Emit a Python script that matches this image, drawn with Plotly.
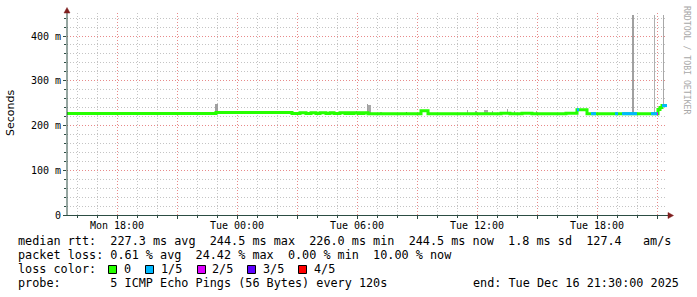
import plotly.graph_objects as go
import pandas as pd
import numpy as np

# ---------------- data ----------------
window_start = "2025-12-15 15:30"
window_end = "2025-12-16 21:30"

# median RTT (ms) as step segments: start time, value, loss class
seg_start = [
    "2025-12-15 15:30", "2025-12-15 22:57",
    "2025-12-16 02:45", "2025-12-16 03:09", "2025-12-16 03:27", "2025-12-16 03:42",
    "2025-12-16 03:57", "2025-12-16 04:09", "2025-12-16 04:27", "2025-12-16 04:39",
    "2025-12-16 04:51", "2025-12-16 05:09", "2025-12-16 05:24", "2025-12-16 05:33",
    "2025-12-16 05:42", "2025-12-16 05:51", "2025-12-16 06:03", "2025-12-16 06:09",
    "2025-12-16 06:15", "2025-12-16 06:21",
    "2025-12-16 06:33", "2025-12-16 09:12", "2025-12-16 09:33",
    "2025-12-16 13:12", "2025-12-16 13:39", "2025-12-16 14:15", "2025-12-16 14:45",
    "2025-12-16 16:27",
    "2025-12-16 17:00", "2025-12-16 17:06", "2025-12-16 17:30", "2025-12-16 17:42",
    "2025-12-16 17:57", "2025-12-16 18:54", "2025-12-16 19:03", "2025-12-16 19:15",
    "2025-12-16 20:00", "2025-12-16 20:42", "2025-12-16 21:00", "2025-12-16 21:03",
    "2025-12-16 21:09", "2025-12-16 21:15",
]
seg_median = [
    227.0, 228.8,
    226.6, 228.4, 226.6, 228.4,
    226.6, 228.4, 226.6, 228.4,
    226.6, 228.4, 226.6, 228.4,
    226.6, 228.4, 226.6, 228.4,
    226.6, 228.4,
    226.0, 233.0, 226.0,
    227.5, 226.0, 227.5, 226.0,
    227.5,
    235.0, 235.0, 226.5, 226.5,
    226.5, 226.5, 226.5, 226.5,
    226.5, 226.5, 226.5, 236.0,
    240.0, 244.5,
]
seg_loss = [
    0, 0,
    0, 0, 0, 0,
    0, 0, 0, 0,
    0, 0, 0, 0,
    0, 0, 0, 0,
    0, 0,
    0, 0, 0,
    0, 0, 0, 0,
    0,
    1, 0, 0, 1,
    0, 1, 0, 1,
    0, 1, 2, 0,
    0, 1,
]

# smoke (spread of the pings above the median)
smoke_start = [
    "2025-12-15 22:54", "2025-12-16 01:57", "2025-12-16 05:57", "2025-12-16 06:30",
    "2025-12-16 06:33", "2025-12-16 07:09", "2025-12-16 08:27", "2025-12-16 09:09",
    "2025-12-16 11:30", "2025-12-16 11:54", "2025-12-16 12:21", "2025-12-16 12:45",
    "2025-12-16 13:30", "2025-12-16 13:51", "2025-12-16 14:57",
    "2025-12-16 19:45", "2025-12-16 20:51", "2025-12-16 21:09", "2025-12-16 21:18",
]
smoke_end = [
    "2025-12-15 23:03", "2025-12-16 02:03", "2025-12-16 06:00", "2025-12-16 06:33",
    "2025-12-16 06:42", "2025-12-16 07:15", "2025-12-16 08:30", "2025-12-16 09:12",
    "2025-12-16 11:33", "2025-12-16 12:00", "2025-12-16 12:33", "2025-12-16 12:48",
    "2025-12-16 13:33", "2025-12-16 13:54", "2025-12-16 15:00",
    "2025-12-16 19:51", "2025-12-16 20:54", "2025-12-16 21:15", "2025-12-16 21:21",
]
smoke_top = [
    249, 233, 233, 249,
    245, 231, 230, 232,
    234, 232, 234, 232,
    236, 233, 233,
    447, 447, 243, 447,
]
smoke_shade = [
    "#a0a0a0", "#a0a0a0", "#a0a0a0", "#a0a0a0",
    "#a8a8a8", "#a8a8a8", "#404040", "#303030",
    "#a8a8a8", "#a8a8a8", "#a8a8a8", "#a8a8a8",
    "#a8a8a8", "#a8a8a8", "#a8a8a8",
    "#a0a0a0", "#b0b0b0", "#202020", "#a8a8a8",
]

loss_labels = ["0", "1/5", "2/5", "3/5", "4/5"]
loss_colors = ["#26ff00", "#00b8ff", "#dd00ff", "#5e00ff", "#ff0000"]

x_tick_times = [
    "2025-12-15 18:00", "2025-12-15 21:00", "2025-12-16 00:00", "2025-12-16 03:00",
    "2025-12-16 06:00", "2025-12-16 09:00", "2025-12-16 12:00", "2025-12-16 15:00",
    "2025-12-16 18:00", "2025-12-16 21:00",
]
x_tick_labels = ["Mon 18:00", "", "Tue 00:00", "", "Tue 06:00", "", "Tue 12:00", "",
                 "Tue 18:00", ""]
y_ticks = [0, 100, 200, 300, 400]
y_tick_labels = ["0", "100 m", "200 m", "300 m", "400 m"]
y_max = 451.4

stat_lines = [
    "median rtt:  227.3 ms avg  244.5 ms max  226.0 ms min  244.5 ms now  1.8 ms sd  127.4   am/s",
    "packet loss: 0.61 % avg  24.42 % max  0.00 % min  10.00 % now",
    "loss color:",
    "probe:       5 ICMP Echo Pings (56 Bytes) every 120s",
]
end_text = "end: Tue Dec 16 21:30:00 2025"
watermark = "RRDTOOL / TOBI OETIKER"

# ---------------- layout constants ----------------
W, H = 697, 297
ML, MR, MT, MB = 67, 30, 13, 82
PW, PH = W - ML - MR, H - MT - MB
Y0 = MT + PH  # pixel row of the x axis

GRID = "#c4c4c4"
MGRID = "#e88a8a"
AXIS = "#2c4d43"
ARROW = "#7f1f1f"
MONO = "DejaVu Sans Mono"
DASH = "1px,2px"
FS = 11.8


def xp(px):
    return (px - ML) / PW


def yp(py):
    return (Y0 - py) / PH


nb = lambda s: s.replace(" ", "\u00a0")

fig = go.Figure()

# smoke bars
t_seg = pd.to_datetime(seg_start)
s0 = pd.to_datetime(smoke_start)
s1 = pd.to_datetime(smoke_end)
idx = np.searchsorted(t_seg.values, s0.values, side="right") - 1
base = np.array(seg_median)[idx]
centers = s0 + (s1 - s0) / 2
widths = (s1 - s0).total_seconds() * 1000.0
fig.add_trace(go.Bar(
    x=centers, y=np.array(smoke_top) - base, base=base, width=widths,
    marker=dict(color=smoke_shade, line=dict(width=0)), hoverinfo="skip",
))

# median line (green base, then loss-coloured segments on top)
x_all = list(seg_start) + [window_end]
y_all = list(seg_median) + [seg_median[-1]]
fig.add_trace(go.Scatter(
    x=x_all, y=y_all, mode="lines", line=dict(color=loss_colors[0], width=3, shape="hv"),
    hoverinfo="skip",
))
for i, lc in enumerate(seg_loss):
    if lc == 0:
        continue
    fig.add_trace(go.Scatter(
        x=[x_all[i], x_all[i + 1]], y=[seg_median[i], seg_median[i]], mode="lines",
        line=dict(color=loss_colors[lc], width=3), hoverinfo="skip",
    ))

shapes = []
# axes
shapes.append(dict(type="line", xref="paper", yref="paper", x0=xp(67), x1=xp(67),
                   y0=yp(Y0 + 0.5), y1=yp(12), line=dict(color=AXIS, width=1)))
shapes.append(dict(type="line", xref="paper", yref="paper", x0=xp(63), x1=xp(669),
                   y0=yp(Y0 + 0.5), y1=yp(Y0 + 0.5), line=dict(color=AXIS, width=1)))
shapes.append(dict(type="path", xref="paper", yref="paper",
                   path=f"M {xp(64)} {yp(13)} L {xp(70)} {yp(13)} L {xp(67)} {yp(7.5)} Z",
                   fillcolor=ARROW, line=dict(color=ARROW, width=0.5)))
shapes.append(dict(type="path", xref="paper", yref="paper",
                   path=f"M {xp(668)} {yp(Y0 - 2.5)} L {xp(668)} {yp(Y0 + 3.5)} L {xp(673.5)} {yp(Y0 + 0.5)} Z",
                   fillcolor=ARROW, line=dict(color=ARROW, width=0.5)))

annotations = []
line_y = [241, 255, 269, 283]
for txt, py in zip(stat_lines, line_y):
    annotations.append(dict(text=nb(txt), x=xp(16), y=yp(py), xref="paper", yref="paper",
                            xanchor="left", yanchor="middle", showarrow=False,
                            font=dict(family=MONO, size=FS, color="black")))
annotations.append(dict(text=nb(end_text), x=xp(681), y=yp(283), xref="paper", yref="paper",
                        xanchor="right", yanchor="middle", showarrow=False,
                        font=dict(family=MONO, size=FS, color="black")))

# loss colour legend
box_x = [108, 145, 197, 247, 298]
lab_x = [122, 159, 210, 261, 312]
for c, lab, bx, lx in zip(loss_colors, loss_labels, box_x, lab_x):
    shapes.append(dict(type="rect", xref="paper", yref="paper", x0=xp(bx + 0.5), x1=xp(bx + 8.5),
                       y0=yp(265.5), y1=yp(273.5), fillcolor=c, line=dict(color="black", width=1)))
    annotations.append(dict(text=lab, x=xp(lx), y=yp(269), xref="paper", yref="paper",
                            xanchor="left", yanchor="middle", showarrow=False,
                            font=dict(family=MONO, size=FS, color="black")))

annotations.append(dict(text="Seconds", x=xp(10), y=yp(113), xref="paper", yref="paper",
                        xanchor="center", yanchor="middle", showarrow=False, textangle=-90,
                        font=dict(family="DejaVu Sans", size=11, color="black")))
annotations.append(dict(text=nb(watermark), x=xp(687), y=yp(60), xref="paper", yref="paper",
                        xanchor="center", yanchor="middle", showarrow=False, textangle=90,
                        font=dict(family=MONO, size=8.2, color="#a8a8a8")))

fig.update_layout(
    width=W, height=H, margin=dict(l=ML, r=MR, t=MT, b=MB, pad=0),
    paper_bgcolor="white", plot_bgcolor="white", showlegend=False,
    barmode="overlay", bargap=0,
    shapes=shapes, annotations=annotations,
    xaxis=dict(
        type="date", range=[window_start, window_end],
        tickmode="array", tickvals=x_tick_times, ticktext=x_tick_labels,
        showgrid=True, gridcolor=MGRID, gridwidth=1, griddash=DASH,
        ticks="outside", ticklen=3, tickcolor=AXIS, tickwidth=1,
        ticklabelstandoff=-2,
        tickfont=dict(family=MONO, size=10, color="black"),
        minor=dict(tickmode="linear", tick0="2025-12-15 00:00", dtick=3600000,
                   showgrid=True, gridcolor=GRID, griddash=DASH, gridwidth=1,
                   ticks="outside", ticklen=2, tickcolor=AXIS),
        zeroline=False, showline=False, fixedrange=True,
    ),
    yaxis=dict(
        range=[0, y_max], tickmode="array", tickvals=y_ticks, ticktext=y_tick_labels,
        showgrid=True, gridcolor=MGRID, gridwidth=1, griddash=DASH,
        ticks="outside", ticklen=3, tickcolor=AXIS, tickwidth=1,
        tickfont=dict(family=MONO, size=10, color="black"),
        minor=dict(tickmode="linear", tick0=0, dtick=20, showgrid=True, gridcolor=GRID,
                   griddash=DASH, gridwidth=1, ticks="outside", ticklen=2, tickcolor=AXIS),
        zeroline=False, showline=False, fixedrange=True,
    ),
)

fig.write_html("out.html")
